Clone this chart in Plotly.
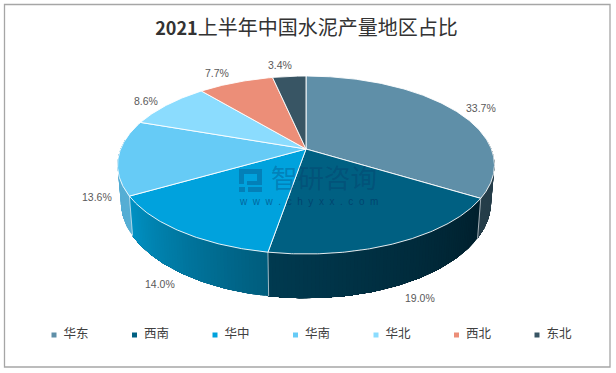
import math
import plotly.graph_objects as go

# ---- data ----
regions = ["华东", "西南", "华中", "华南", "华北", "西北", "东北"]
shares = [33.7, 19.0, 14.0, 13.6, 8.6, 7.7, 3.4]
labels = ["33.7%", "19.0%", "14.0%", "13.6%", "8.6%", "7.7%", "3.4%"]
top_colors = ["#5F8FA8", "#006082", "#00A2DD", "#66CBF6", "#8BDCFE", "#EC8E78", "#385564"]
title_year = "2021"
title_rest = "上半年中国水泥产量地区占比"

# ---- styling / projection constants ----
W, H = 616, 373
CX, CY = 306.0, 149.0
RX, RY, PERSP = 185.4, 86.1, -0.18
DEPTH, SIDE_SX, SIDE_SY = 35.8, 0.982, 1.08
# side colour per slice: (start colour, end colour), in order of increasing angle
side_ramps = [
    ((0x26, 0x3E, 0x4A), (0x26, 0x3E, 0x4A)),
    ((0x00, 0x20, 0x2D), (0x00, 0x3A, 0x50)),
    ((0x00, 0x5C, 0x7C), (0x00, 0x92, 0xC4)),
    ((0x56, 0xAE, 0xD4), (0x56, 0xAE, 0xD4)),
    ((0, 0, 0), (0, 0, 0)),
    ((0, 0, 0), (0, 0, 0)),
    ((0, 0, 0), (0, 0, 0)),
]
# label anchor on rim: use bottom rim for front slices; pixel shift from anchor
label_on_bottom = [False, True, True, False, False, False, False]
label_shift = [(26, -2), (24, 12), (-24, 10), (-21, 40), (-21, -4), (-19, -9.5), (-9, -11)]


def top_pt(deg):
    t = math.radians(deg)
    u, v = math.sin(t), -math.cos(t)
    d = 1 + PERSP * v
    return CX + RX * u / d, CY + RY * v / d


def bottom_pt(deg):
    x, y = top_pt(deg)
    return CX + SIDE_SX * (x - CX), CY + DEPTH + SIDE_SY * (y - CY)


total = sum(shares)
edges = [0.0]
for s in shares:
    edges.append(edges[-1] + s / total * 360)

fig = go.Figure()


def poly(xs, ys, fill, line=None, width=0.0):
    fig.add_trace(go.Scatter(
        x=xs, y=ys, mode="lines", fill="toself", fillcolor=fill,
        line=dict(color=line or fill, width=width), hoverinfo="skip", showlegend=False))


# side wall: each strip runs to the slice's far end, the next strip paints over it,
# so that no antialiasing seams show between strips
VIS_A, VIS_B = 84.0, 276.0
for i in range(len(shares)):
    a, b = max(edges[i], VIS_A), min(edges[i + 1], VIS_B)
    if a >= b:
        continue
    n = max(1, int((b - a) / 1.0))
    c0, c1 = side_ramps[i]
    for k in range(n):
        t0 = a + (b - a) * k / n
        f = (k + 0.5) / n
        col = "rgb(%d,%d,%d)" % tuple(round(c0[j] + (c1[j] - c0[j]) * f) for j in range(3))
        m = max(2, int(b - t0))
        ang = [t0 + (b - t0) * q / m for q in range(m + 1)]
        p = [top_pt(t) for t in ang] + [bottom_pt(t) for t in reversed(ang)]
        poly([q[0] for q in p] + [p[0][0]], [q[1] for q in p] + [p[0][1]], col)

# seams on the wall
for e in edges[1:4]:
    p, q = top_pt(e), bottom_pt(e)
    fig.add_trace(go.Scatter(x=[p[0], q[0]], y=[p[1], q[1]], mode="lines",
                             line=dict(color="rgba(235,240,245,0.85)", width=0.8),
                             hoverinfo="skip", showlegend=False))

# top face
for i in range(len(shares)):
    a, b = edges[i], edges[i + 1]
    n = max(2, int(b - a) * 2)
    pts = [top_pt(a + (b - a) * k / n) for k in range(n + 1)]
    xs = [CX] + [p[0] for p in pts] + [CX]
    ys = [CY] + [p[1] for p in pts] + [CY]
    poly(xs, ys, top_colors[i], line="#FFFFFF", width=0.9)

# data labels
annos = []
for i, lab in enumerate(labels):
    mid = (edges[i] + edges[i + 1]) / 2
    x, y = bottom_pt(mid) if label_on_bottom[i] else top_pt(mid)
    dx, dy = label_shift[i]
    annos.append(dict(x=x, y=y, xref="x", yref="y", text=lab, showarrow=False,
                      xshift=dx, yshift=-dy,
                      font=dict(family="Liberation Sans", size=10.5, color="#595959")))

# legend row
LEG_X0, LEG_STEP, LEG_Y, LEG_GAP = 54.0, 80.5, 335.0, 9.5
leg_x = [LEG_X0 + LEG_STEP * i for i in range(len(regions))]
fig.add_trace(go.Scatter(
    x=leg_x, y=[LEG_Y] * len(regions), mode="markers",
    marker=dict(symbol="square", size=5, color=top_colors, line=dict(width=0)),
    hoverinfo="skip", showlegend=False))
fig.add_trace(go.Scatter(
    x=[v + LEG_GAP for v in leg_x], y=[LEG_Y] * len(regions), mode="text",
    text=regions, textposition="middle right",
    textfont=dict(family="Noto Sans CJK SC", size=12.5, color="#404040"),
    hoverinfo="skip", showlegend=False))

# watermark
WM = "rgba(10,50,100,0.30)"
WM2 = "rgba(0,40,90,0.50)"
annos.append(dict(x=324, y=176.5, xref="x", yref="y", text="智研咨询", showarrow=False,
                  font=dict(family="Noto Sans CJK SC", size=26.5, color=WM)))
annos.append(dict(x=308, y=201.5, xref="x", yref="y",
                  text="\u00a0\u00a0".join("www.chyxx.com"), showarrow=False,
                  font=dict(family="Liberation Sans", size=10, color=WM2)))
shapes = [
    dict(type="rect", xref="x", yref="y", x0=4.5, y0=4.5, x1=610, y1=367,
         line=dict(color="#A6A6A6", width=1.3), layer="below"),
    dict(type="path", xref="x", yref="y", layer="above", line=dict(width=0), fillcolor=WM,
         path="M239,169 L262,169 L262,185 L247,185 L247,181 L257,181 L257,174 L244,174 L244,184 L239,184 Z"),
    dict(type="rect", xref="x", yref="y", layer="above", line=dict(width=0), fillcolor=WM,
         x0=239, y0=187, x1=245, y1=192),
    dict(type="rect", xref="x", yref="y", layer="above", line=dict(width=0), fillcolor=WM,
         x0=248, y0=187, x1=262, y1=192),
]

fig.update_layout(
    width=W, height=H, margin=dict(l=0, r=0, t=0, b=0),
    paper_bgcolor="#FFFFFF", plot_bgcolor="#FFFFFF", showlegend=False,
    xaxis=dict(range=[0, W], visible=False, fixedrange=True),
    yaxis=dict(range=[H, 0], visible=False, fixedrange=True),
    title=dict(
        text="<b>%s</b><span style=\"font-size:20px\">%s</span>" % (title_year, title_rest),
        x=306.5 / W, xanchor="center", y=1 - 28.5 / H, yanchor="middle",
        font=dict(family="Noto Sans CJK SC", size=18, color="#333333")),
    annotations=annos, shapes=shapes,
)

fig.write_html("out.html", config=dict(displayModeBar=False),
               post_script="document.body.style.margin='0';document.body.style.overflow='hidden';")
